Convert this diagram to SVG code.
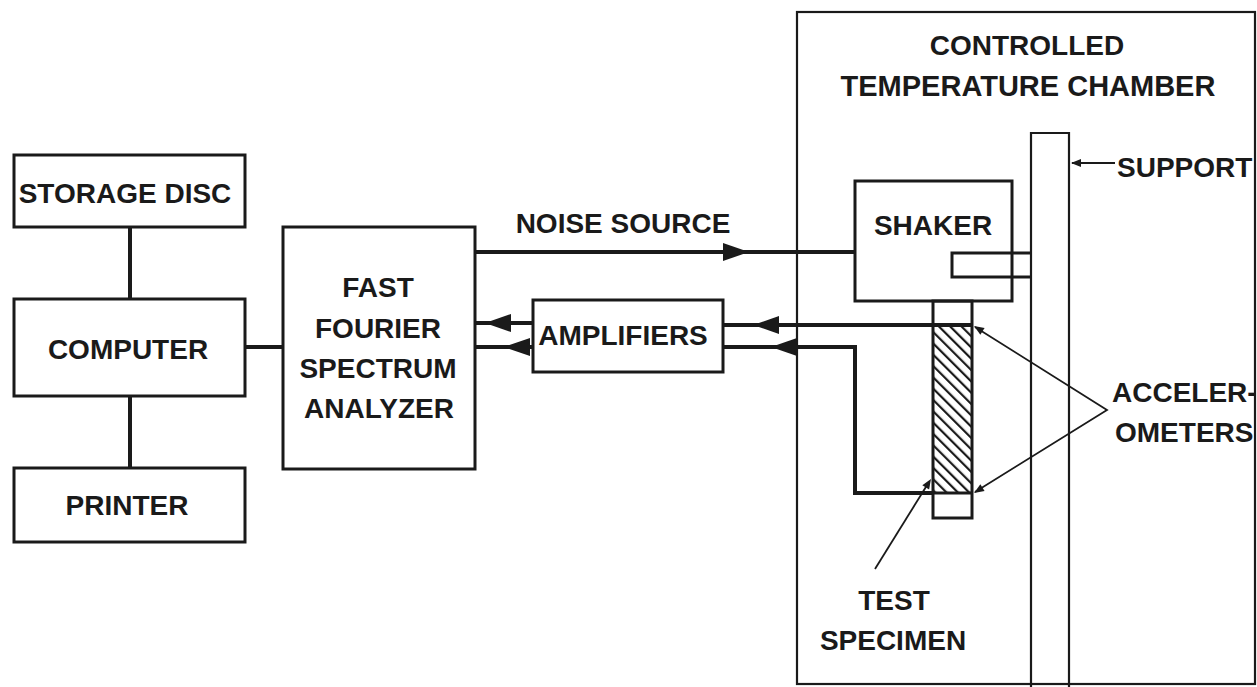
<svg xmlns="http://www.w3.org/2000/svg" width="1257" height="687" viewBox="0 0 1257 687">
<style>
.box{fill:none;stroke:#1a1a1a;stroke-width:3}
.thin{fill:none;stroke:#1a1a1a;stroke-width:2.2}
.wire{fill:none;stroke:#1a1a1a;stroke-width:4}
.lead{fill:none;stroke:#1a1a1a;stroke-width:1.8}
.t{font-family:"Liberation Sans",Arial,sans-serif;font-weight:bold;font-size:28px;fill:#1a1a1a;text-anchor:middle}
.ts{text-anchor:start}
.ah{fill:#1a1a1a}
</style>
<defs>
<path id="big" d="M0,0 L-26,-9 L-26,9 Z"/>
<path id="small" d="M0,0 L-10,-4 L-10,4 Z"/>
<pattern id="hatch" width="8" height="8" patternUnits="userSpaceOnUse" patternTransform="rotate(-45)">
<line x1="1" y1="0" x2="1" y2="8" stroke="#1a1a1a" stroke-width="2.4"/>
</pattern>
</defs>
<rect width="1257" height="687" fill="#ffffff"/>

<g id="chamber">
<rect class="thin" x="797" y="12" width="458" height="672"/>
<text class="t" x="1027" y="55">CONTROLLED</text>
<text class="t" x="1028" y="96" style="font-size:29px">TEMPERATURE CHAMBER</text>
</g>

<g id="support">
<path class="thin" d="M1031,687 V133 H1069 V687"/>
<text class="t ts" x="1117" y="177">SUPPORT</text>
</g>

<g id="storage-disc">
<rect class="box" x="14" y="155" width="231" height="72"/>
<text class="t" x="125" y="203">STORAGE DISC</text>
</g>
<g id="computer">
<rect class="box" x="14" y="299" width="231" height="97"/>
<text class="t" x="128" y="359">COMPUTER</text>
</g>
<g id="printer">
<rect class="box" x="14" y="468" width="231" height="74"/>
<text class="t" x="127" y="515">PRINTER</text>
</g>
<g id="fft">
<rect class="box" x="283" y="227" width="192" height="242"/>
<text class="t" x="378" y="297">FAST</text>
<text class="t" x="378" y="338">FOURIER</text>
<text class="t" x="378" y="378">SPECTRUM</text>
<text class="t" x="379" y="418">ANALYZER</text>
</g>
<g id="amplifiers">
<rect class="box" x="533" y="300" width="190" height="72"/>
<text class="t" x="623" y="345">AMPLIFIERS</text>
</g>
<g id="shaker">
<rect class="box" x="855" y="181" width="157" height="120"/>
<text class="t" x="933" y="235">SHAKER</text>
<path class="box" d="M1031,253 H952 V277 H1031"/>
</g>
<g id="test-specimen">
<rect x="933" y="325" width="39" height="168" fill="url(#hatch)"/>
<rect class="box" x="933" y="301" width="39" height="217"/>
<line class="box" x1="933" y1="493" x2="972" y2="493"/>
<text class="t" x="894" y="610">TEST</text>
<text class="t" x="893" y="650">SPECIMEN</text>
</g>
<g id="accelerometers">
<text class="t ts" x="1112" y="402">ACCELER-</text>
<text class="t ts" x="1115" y="442">OMETERS</text>
</g>

<g id="connectors">
<line class="wire" x1="130" y1="227" x2="130" y2="299"/>
<line class="wire" x1="130" y1="396" x2="130" y2="468"/>
<line class="wire" x1="245" y1="347" x2="283" y2="347"/>
<line class="wire" x1="475" y1="252" x2="855" y2="252"/>
<use href="#big" class="ah" transform="translate(749,252)"/>
<text class="t" x="623" y="233">NOISE SOURCE</text>
<line class="wire" x1="475" y1="323" x2="533" y2="323"/>
<use href="#big" class="ah" transform="translate(485,323) rotate(180)"/>
<line class="wire" x1="475" y1="347" x2="533" y2="347"/>
<use href="#big" class="ah" transform="translate(504,347) rotate(180)"/>
<line class="wire" x1="723" y1="325" x2="972" y2="325"/>
<use href="#big" class="ah" transform="translate(753,325) rotate(180)"/>
<path class="wire" d="M723,347 H855 V493 H933"/>
<use href="#big" class="ah" transform="translate(771,347) rotate(180)"/>
<line class="lead" x1="1115" y1="163" x2="1072" y2="163"/>
<use href="#small" class="ah" transform="translate(1071,163) rotate(180)"/>
<path class="lead" d="M975,327 L1107,410 L975,492"/>
<use href="#small" class="ah" transform="translate(974,326) rotate(212)"/>
<use href="#small" class="ah" transform="translate(974,493) rotate(148)"/>
<line class="lead" x1="875" y1="569" x2="929" y2="482"/>
<use href="#small" class="ah" transform="translate(931,479) rotate(-58)"/>
</g>
</svg>
